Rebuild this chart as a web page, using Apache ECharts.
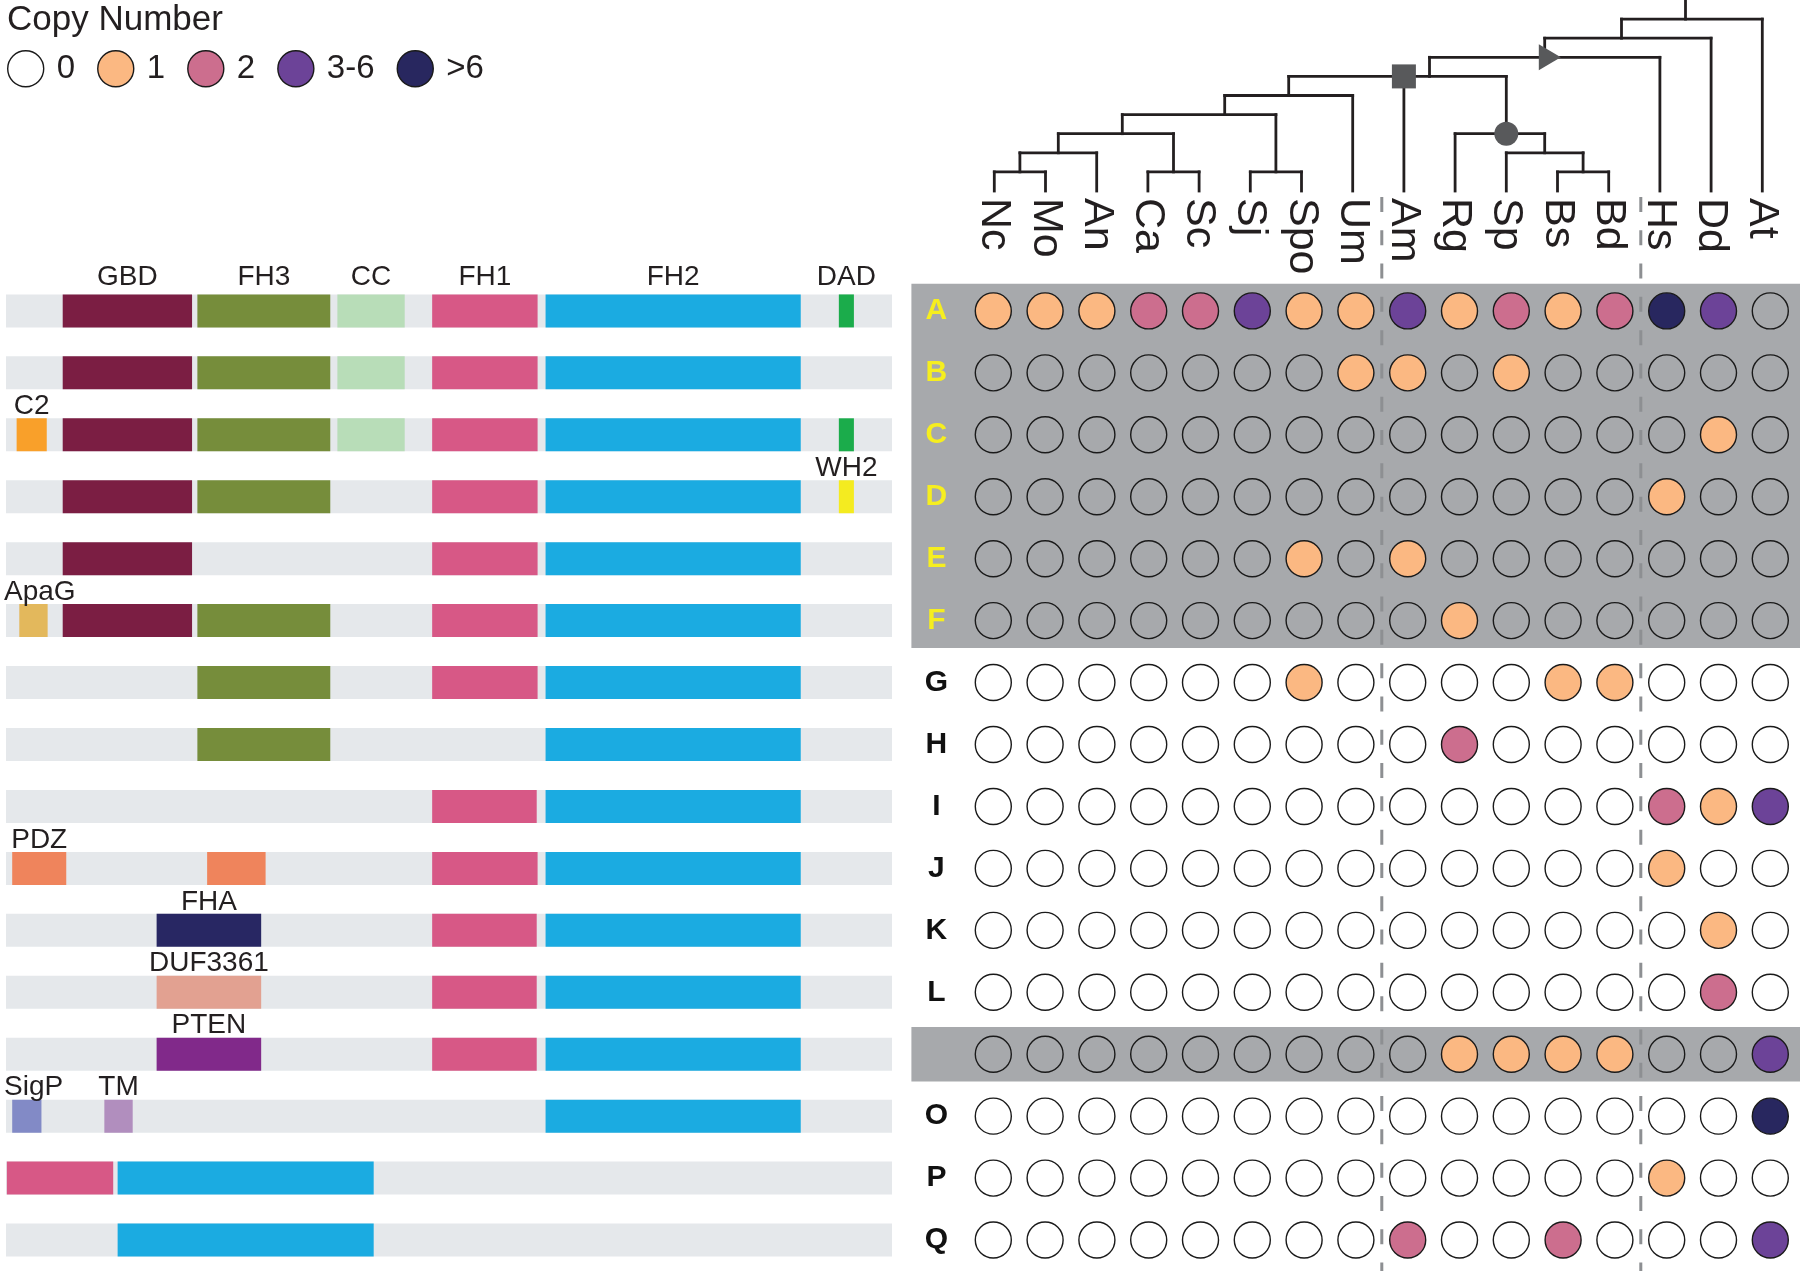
<!DOCTYPE html>
<html><head><meta charset="utf-8">
<script src="https://cdn.jsdelivr.net/npm/echarts@6/dist/echarts.min.js"></script>
<style>html,body{margin:0;padding:0;background:#fff}#c{width:1800px;height:1271px}</style>
</head><body><div id="c"></div>
<script>
// ---------------- DATA ----------------
const species = ['Nc','Mo','An','Ca','Sc','Sj','Spo','Um','Am','Rg','Sp','Bs','Bd','Hs','Dd','At'];
const rowLabels = ['A','B','C','D','E','F','G','H','I','J','K','L','','O','P','Q'];
const copyClasses = ['0','1','2','3-6','>6'];
// copy-number class index (0:"0", 1:"1", 2:"2", 3:"3-6", 4:">6") per row, per species
const copyClassIndex = [
  [1,1,1,2,2,3,1,1,3,1,2,1,2,4,3,0],
  [0,0,0,0,0,0,0,1,1,0,1,0,0,0,0,0],
  [0,0,0,0,0,0,0,0,0,0,0,0,0,0,1,0],
  [0,0,0,0,0,0,0,0,0,0,0,0,0,1,0,0],
  [0,0,0,0,0,0,1,0,1,0,0,0,0,0,0,0],
  [0,0,0,0,0,0,0,0,0,1,0,0,0,0,0,0],
  [0,0,0,0,0,0,1,0,0,0,0,1,1,0,0,0],
  [0,0,0,0,0,0,0,0,0,2,0,0,0,0,0,0],
  [0,0,0,0,0,0,0,0,0,0,0,0,0,2,1,3],
  [0,0,0,0,0,0,0,0,0,0,0,0,0,1,0,0],
  [0,0,0,0,0,0,0,0,0,0,0,0,0,0,1,0],
  [0,0,0,0,0,0,0,0,0,0,0,0,0,0,2,0],
  [0,0,0,0,0,0,0,0,0,1,1,1,1,0,0,3],
  [0,0,0,0,0,0,0,0,0,0,0,0,0,0,0,4],
  [0,0,0,0,0,0,0,0,0,0,0,0,0,1,0,0],
  [0,0,0,0,0,0,0,0,2,0,0,2,0,0,0,3]
];
// shaded row groups [first row, last row]
const shadedRows = [[0,5],[12,12]];
// dashed clade separators (between these species)
const cladeBreaks = [['Um','Am'],['Bd','Hs']];

// domain architecture per row: [domain, start, end, labelled]
const proteinLength = 1000;
const domainRows = [
  [['GBD',64,210,1],['FH3',216,366,1],['CC',374,450,1],['FH1',481,600,1],['FH2',609,897,1],['DAD',940,957,1]],
  [['GBD',64,210,0],['FH3',216,366,0],['CC',374,450,0],['FH1',481,600,0],['FH2',609,897,0]],
  [['C2',12,46,1],['GBD',64,210,0],['FH3',216,366,0],['CC',374,450,0],['FH1',481,600,0],['FH2',609,897,0],['DAD',940,957,0]],
  [['GBD',64,210,0],['FH3',216,366,0],['FH1',481,600,0],['FH2',609,897,0],['WH2',940,957,1]],
  [['GBD',64,210,0],['FH1',481,600,0],['FH2',609,897,0]],
  [['ApaG',15,47,1],['GBD',64,210,0],['FH3',216,366,0],['FH1',481,600,0],['FH2',609,897,0]],
  [['FH3',216,366,0],['FH1',481,600,0],['FH2',609,897,0]],
  [['FH3',216,366,0],['FH2',609,897,0]],
  [['FH1',481,599,0],['FH2',609,897,0]],
  [['PDZ',7,68,1],['PDZ',227,293,0],['FH1',481,600,0],['FH2',609,897,0]],
  [['FHA',170,288,1],['FH1',481,599,0],['FH2',609,897,0]],
  [['DUF3361',170,288,1],['FH1',481,599,0],['FH2',609,897,0]],
  [['PTEN',170,288,1],['FH1',481,599,0],['FH2',609,897,0]],
  [['SigP',7,40,1],['TM',111,143,1],['FH2',609,897,0]],
  [['FH1',1,121,0],['FH2',126,415,0]],
  [['FH2',126,415,0]]
];

// species tree: level at which each tip joins its parent
const tipJoinLevel = [1,1,2,1,1,1,1,5,6,3,2,1,1,7,8,9];
// internal nodes: [level, left end, right end, stem position, parent level]
const treeNodes = [
  [1, 0, 1, 0.5, 2],
  [2, 0.5, 2, 1.25, 3],
  [1, 3, 4, 3.5, 3],
  [3, 1.25, 3.5, 2.5, 4],
  [1, 5, 6, 5.5, 4],
  [4, 2.5, 5.5, 4.5, 5],
  [5, 4.5, 7, 5.75, 6],
  [1, 11, 12, 11.5, 2],
  [2, 10, 11.5, 10.75, 3],
  [3, 9, 10.75, 10, 6],
  [6, 5.75, 10, 8.5, 7],
  [7, 8.5, 13, 10.75, 8],
  [8, 10.75, 14, 12.25, 9],
  [9, 12.25, 15, 13.5, 10]
];
// event markers on the tree: [shape, position, level]
const treeMarkers = [['rect', 8, 6], ['circle', 10, 3], ['triangle', 10.85, 7]];

// ---------------- STYLE ----------------
const FONT = '"Liberation Sans", Arial, Helvetica, sans-serif';
const INK = '#231f20';
const copyColors = ['rgba(0,0,0,0)', '#fbb882', '#cc6e8e', '#6c4398', '#28275f'];
const domainColors = {
  GBD:'#7b1e43', FH3:'#768d3b', CC:'#b8ddb8', FH1:'#d75886', FH2:'#1babe1', DAD:'#1bac4b',
  C2:'#f9a02a', WH2:'#f4eb20', ApaG:'#e3b85c', PDZ:'#ef845c', FHA:'#282763',
  DUF3361:'#e2a191', PTEN:'#81298a', SigP:'#828ac6', TM:'#b18ebe'
};
const LABEL_FONT = '28px ' + FONT;
const measureCtx = document.createElement('canvas').getContext('2d');
function textWidth(t, font) { measureCtx.font = font; return measureCtx.measureText(t).width; }

// ---------------- BUILD ----------------
const domainItems = [];
domainRows.forEach((row, r) => row.forEach(d => domainItems.push({row: r, name: d[0], s: d[1], e: d[2], lab: d[3]})));
const domainData = domainItems.map(d => [d.row, d.s, d.e]);
const bgData = domainRows.map((_, r) => [r, 0, proteinLength]);

const treeSegs = [];
tipJoinLevel.forEach((lv, i) => treeSegs.push([i, 0, i, lv]));
treeNodes.forEach(n => { treeSegs.push([n[1], n[0], n[2], n[0]]); treeSegs.push([n[3], n[0], n[3], n[4]]); });

const speciesIdx = n => species.indexOf(n);

const dotSeries = copyClasses.map((name, k) => {
  const data = [];
  copyClassIndex.forEach((row, i) => row.forEach((v, j) => { if (v === k) data.push([j, i]); }));
  return {
    name, type: 'scatter', xAxisIndex: 1, yAxisIndex: 1, data,
    symbol: 'circle', symbolSize: 36, z: 5, silent: true,
    itemStyle: {color: copyColors[k], borderColor: '#1a1a1a', borderWidth: 1.4, opacity: 1}
  };
});

const DOT_TOP = 279.95, ROW_H = 62.7;

const option = {
  animation: false,
  backgroundColor: '#ffffff',
  title: {text: 'Copy Number', left: 7, top: 3, padding: 0,
    textStyle: {fontFamily: FONT, fontSize: 35, fontWeight: 'normal', color: INK}},
  legend: {
    left: 7, top: 50, padding: 0, itemWidth: 36, itemHeight: 36, itemGap: 22, icon: 'circle',
    selectedMode: false, data: copyClasses,
    itemStyle: {borderColor: '#1a1a1a', borderWidth: 1.4},
    textStyle: {fontFamily: FONT, fontSize: 33, color: INK, padding: [0, 0, 0, 8]}
  },
  grid: [
    {left: 6, top: DOT_TOP, width: 886, height: ROW_H * 16},            // domains
    {left: 967.4, top: DOT_TOP, width: 828.8, height: ROW_H * 16},      // dot matrix
    {left: 994.3, top: 0, width: 768, height: 191}                       // tree
  ],
  xAxis: [
    {type: 'value', gridIndex: 0, min: 0, max: proteinLength, show: false},
    {type: 'category', gridIndex: 1, data: species, show: false},
    {type: 'value', gridIndex: 2, min: 0, max: 15, interval: 1, position: 'bottom',
      axisLine: {show: false}, axisTick: {show: false}, splitLine: {show: false},
      axisLabel: {show: true, rotate: -90, margin: 7, fontFamily: FONT, fontSize: 43, color: INK,
        formatter: v => species[Math.round(v)] || ''}}
  ],
  yAxis: [
    {type: 'category', gridIndex: 0, data: domainRows.map((_, i) => 'r' + i), inverse: true, show: false},
    {type: 'category', gridIndex: 1, data: rowLabels, inverse: true, z: 10,
      axisLine: {show: false}, axisTick: {show: false}, splitLine: {show: false},
      axisLabel: {show: true, align: 'center', margin: 31,
        formatter: (v, i) => v === '' ? '' : ((i >= shadedRows[0][0] && i <= shadedRows[0][1]) ? '{y|' + v + '}' : '{k|' + v + '}'),
        rich: {
          y: {fontFamily: FONT, fontSize: 30, fontWeight: 'bold', color: '#f6ee1f'},
          k: {fontFamily: FONT, fontSize: 30, fontWeight: 'bold', color: '#111111'}
        }}},
    {type: 'value', gridIndex: 2, min: 0, max: 10, show: false}
  ],
  series: [
    // protein backbone bars
    {type: 'custom', xAxisIndex: 0, yAxisIndex: 0, data: bgData, silent: true, z: 1,
      encode: {x: [1, 2], y: 0},
      renderItem: (params, api) => {
        const a = api.coord([api.value(1), api.value(0)]);
        const b = api.coord([api.value(2), api.value(0)]);
        return {type: 'rect', shape: {x: a[0], y: a[1] - 16.5, width: b[0] - a[0], height: 33},
          style: {fill: '#e5e8eb'}};
      }},
    // domains
    {type: 'custom', xAxisIndex: 0, yAxisIndex: 0, data: domainData, silent: true, z: 2, clip: false,
      encode: {x: [1, 2], y: 0},
      renderItem: (params, api) => {
        const d = domainItems[params.dataIndex];
        const a = api.coord([api.value(1), api.value(0)]);
        const b = api.coord([api.value(2), api.value(0)]);
        const top = a[1] - 16.5;
        const children = [{type: 'rect', shape: {x: a[0], y: top, width: b[0] - a[0], height: 33},
          style: {fill: domainColors[d.name]}}];
        if (d.lab) {
          const gap = d.row === 0 ? 3 : -2;
          const w = textWidth(d.name, LABEL_FONT);
          const cx = Math.max((a[0] + b[0]) / 2, 4 + w / 2);
          children.push({type: 'text', x: cx, y: top - gap,
            style: {text: d.name, fill: INK, font: LABEL_FONT, align: 'center', verticalAlign: 'bottom'}});
        }
        return {type: 'group', children};
      }},
    // shaded row groups
    {type: 'custom', xAxisIndex: 1, yAxisIndex: 1, data: shadedRows, silent: true, z: 0, clip: false,
      encode: {y: [0, 1]},
      renderItem: (params, api) => {
        const h = api.size([0, 1])[1];
        const a = api.coord([0, api.value(0)]);
        const b = api.coord([0, api.value(1)]);
        const cs = params.coordSys;
        const x0 = cs.x - 56;
        return {type: 'rect', shape: {x: x0, y: a[1] - h / 2 + 3.7, width: api.getWidth() - x0, height: (b[1] - a[1]) + h - 7.4},
          style: {fill: '#a7a9ac'}};
      }},
    // dashed clade separators
    {type: 'custom', xAxisIndex: 1, yAxisIndex: 1, silent: true, z: 1, clip: false,
      data: cladeBreaks.map(p => [speciesIdx(p[0]), speciesIdx(p[1])]),
      encode: {x: [0, 1]},
      renderItem: (params, api) => {
        const a = api.coord([api.value(0), 0]);
        const b = api.coord([api.value(1), 0]);
        const x = (a[0] + b[0]) / 2;
        return {type: 'line', shape: {x1: x, y1: params.coordSys.y - 83, x2: x, y2: api.getHeight()},
          style: {stroke: '#8d8f92', lineWidth: 3, lineDash: [15, 18.3]}};
      }},
    ...dotSeries,
    // tree branches
    {type: 'custom', xAxisIndex: 2, yAxisIndex: 2, data: treeSegs, silent: true, z: 3, clip: false,
      encode: {x: [0, 2], y: [1, 3]},
      renderItem: (params, api) => {
        const a = api.coord([api.value(0), api.value(1)]);
        const b = api.coord([api.value(2), api.value(3)]);
        return {type: 'line', shape: {x1: a[0], y1: a[1], x2: b[0], y2: b[1]},
          style: {stroke: INK, lineWidth: 2.8, lineCap: 'square'}};
      }},
    // tree event markers
    {type: 'scatter', xAxisIndex: 2, yAxisIndex: 2, silent: true, z: 4,
      data: treeMarkers.map(m => ({
        value: [m[1], m[2]], symbol: m[0],
        symbolSize: m[0] === 'triangle' ? [26, 22] : 24,
        symbolRotate: m[0] === 'triangle' ? -90 : 0
      })),
      itemStyle: {color: '#58595b', opacity: 1}}
  ]
};

const chart = echarts.init(document.getElementById('c'), null, {renderer: 'canvas'});
chart.setOption(option);
</script></body></html>
